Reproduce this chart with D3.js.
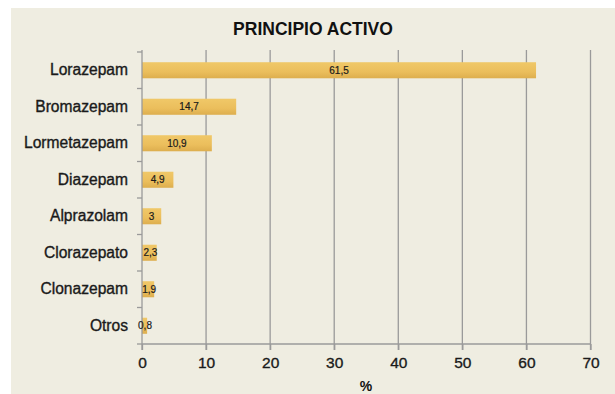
<!DOCTYPE html>
<html><head><meta charset="utf-8">
<script src="https://cdn.jsdelivr.net/npm/d3@7"></script>
<style>
body{margin:0;background:#fff;}
svg{display:block;}
</style></head>
<body>
<script>
const categories = ["Lorazepam","Bromazepam","Lormetazepam","Diazepam","Alprazolam","Clorazepato","Clonazepam","Otros"];
const values = [61.5, 14.7, 10.9, 4.9, 3, 2.3, 1.9, 0.8];
const valueLabels = ["61,5","14,7","10,9","4,9","3","2,3","1,9","0,8"];
const xTicks = [0,10,20,30,40,50,60,70];
const title = "PRINCIPIO ACTIVO";
const xTitle = "%";

const W = 615, H = 394;
const svg = d3.select("body").append("svg").attr("width", W).attr("height", H);

const defs = svg.append("defs");
const g1 = defs.append("linearGradient").attr("id","barg").attr("x1",0).attr("y1",0).attr("x2",0).attr("y2",1);
g1.append("stop").attr("offset","0%").attr("stop-color","#F0C868");
g1.append("stop").attr("offset","60%").attr("stop-color","#EBBE5C");
g1.append("stop").attr("offset","100%").attr("stop-color","#DDAE4E");

svg.append("rect").attr("x",11).attr("y",8).attr("width",W-11).attr("height",H-8).attr("fill","#EFEDE1");

const x = d3.scaleLinear().domain([0,70]).range([142,590.5]);
const y = d3.scaleBand().domain(categories).range([52,344]).paddingInner(0.56).paddingOuter(0.28);
const yb = d3.scaleBand().domain(categories).range([52,344]);

// gridlines
svg.append("g").selectAll("line").data(xTicks.slice(1)).join("line")
  .attr("x1",d=>x(d)).attr("x2",d=>x(d)).attr("y1",50).attr("y2",350)
  .attr("stroke","#9a9a9a").attr("stroke-width",1.3);

// bars
svg.append("g").selectAll("rect").data(values).join("rect")
  .attr("x",x(0)).attr("y",(d,i)=>y(categories[i]))
  .attr("width",d=>x(d)-x(0)).attr("height",y.bandwidth())
  .attr("fill","url(#barg)");

// y axis
const yAxis = d3.axisLeft(yb).tickSize(0).tickPadding(14);
const ya = svg.append("g").attr("transform",`translate(${x(0)},0)`).call(yAxis);
ya.select(".domain").remove();
ya.selectAll("text").attr("font-family","'Liberation Sans',Arial,sans-serif")
  .attr("font-size",15.6).attr("fill","#1a1a1a").attr("stroke","#1a1a1a").attr("stroke-width",0.35);
svg.append("line").attr("x1",x(0)).attr("x2",x(0)).attr("y1",50).attr("y2",350).attr("stroke","#9a9a9a").attr("stroke-width",1.3);
svg.append("g").selectAll("line").data(d3.range(categories.length+1)).join("line")
  .attr("x1",x(0)-5).attr("x2",x(0)).attr("y1",i=>52+i*yb.step()).attr("y2",i=>52+i*yb.step())
  .attr("stroke","#9a9a9a").attr("stroke-width",1.3);

// x axis
const xAxis = d3.axisBottom(x).tickValues(xTicks).tickSize(6).tickPadding(7);
const xa = svg.append("g").attr("transform","translate(0,344)").call(xAxis);
xa.select(".domain").attr("stroke","#9a9a9a").attr("stroke-width",1.3).attr("d",`M${x(0)},0H${x(70)}`);
xa.selectAll(".tick line").attr("stroke","#9a9a9a").attr("stroke-width",1.3);
xa.selectAll("text").attr("font-family","'Liberation Sans',Arial,sans-serif").attr("font-size",15.5)
  .attr("fill","#1a1a1a").attr("stroke","#1a1a1a").attr("stroke-width",0.35);

// value labels
svg.append("g").selectAll("text").data(values).join("text")
  .attr("x",(d,i)=>d<1.2 ? x(0)+3 : x(0)+(x(d)-x(0))/2 + (d<3 ? 1 : 0))
  .attr("y",(d,i)=>y(categories[i])+y.bandwidth()/2+3.3)
  .attr("text-anchor","middle")
  .attr("font-family","'Liberation Sans Narrow','Arial Narrow',sans-serif")
  .attr("font-size",10).attr("fill","#1a1a1a").attr("stroke","#1a1a1a").attr("stroke-width",0.2)
  .text((d,i)=>valueLabels[i]);

// title
svg.append("text").attr("x",313).attr("y",35).attr("text-anchor","middle")
  .attr("font-family","'Liberation Sans Narrow','Arial Narrow',sans-serif").attr("font-weight","bold")
  .attr("font-size",17.5).attr("fill","#111").text(title);

svg.append("text").attr("x",366).attr("y",391).attr("text-anchor","middle")
  .attr("font-family","'Liberation Sans',Arial,sans-serif").attr("font-weight","bold")
  .attr("font-size",14).attr("fill","#111").text(xTitle);
</script>
</body></html>
